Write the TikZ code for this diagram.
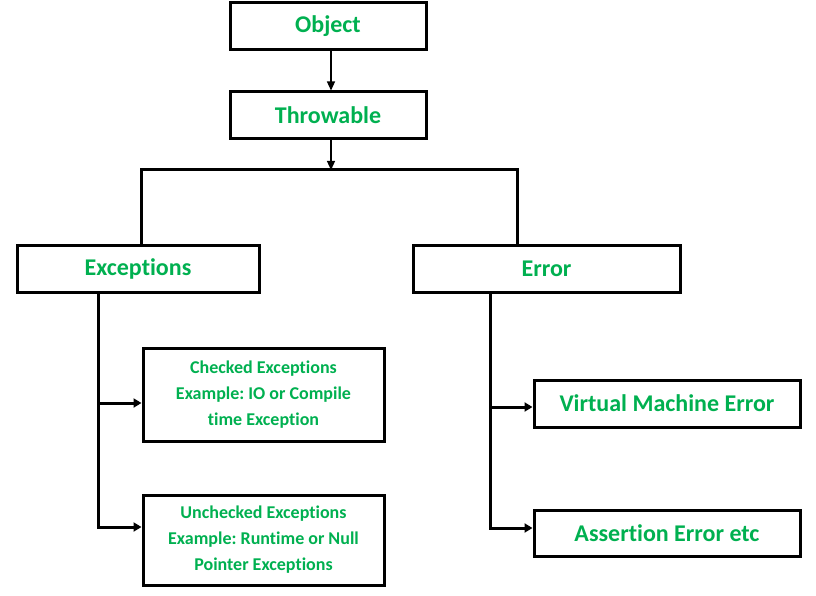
\documentclass[tikz,border=0pt]{standalone}
\usepackage{fontspec}
\setmainfont{Carlito}[Ligatures=NoCommon]
\frenchspacing
\usetikzlibrary{arrows.meta}
\definecolor{labelgreen}{RGB}{0,176,80}

\begin{document}
\begin{tikzpicture}[x=1pt, y=-1pt,
  every node/.style={font=\bfseries\fontsize{24}{28}\selectfont, text=labelgreen},
  classbox/.style={draw=black, line width=3pt, minimum height=47pt, inner sep=0pt},
  notebox/.style={classbox, font=\bfseries\fontsize{18}{26}\selectfont, align=center},
  thinarrow/.style={line width=1.2pt, -{Triangle[length=9pt,width=8pt]}},
  treeline/.style={line width=3pt},
  treearrow/.style={line width=3pt, -{Triangle[length=8pt,width=9pt]}}]
  \def\barlevel{170}

  \useasboundingbox (0,0) rectangle (816,596);

  \node[classbox, minimum width=196pt] (object) at (328,26.5) {Object};
  \node[classbox, minimum width=196pt] (throwable) at (328,115.5) {Throwable};
  \node[classbox, minimum width=242pt] (exceptions) at (138,268.5) {Exceptions};
  \node[classbox, minimum width=267pt] (error) at (546.5,268.5) {Error};

  \node[notebox, minimum width=241pt, minimum height=93pt] (checked) at (263.5,394.5)
    {Checked Exceptions\\Example: IO or Compile\\time Exception};
  \node[notebox, minimum width=241pt, minimum height=90pt] (unchecked) at (263.5,540)
    {Unchecked Exceptions\\Example: Runtime or Null\\Pointer Exceptions};
  \node[classbox, minimum width=266pt] (vmerror) at (667,403.5) {Virtual Machine Error};
  \node[classbox, minimum width=266pt, minimum height=46pt] (assertion) at (667,533) {Assertion Error etc};

  \coordinate (split) at (331,\barlevel);
  \draw[thinarrow] ([xshift=3pt]object.south) -- ([xshift=3pt]throwable.north);
  \draw[thinarrow] ([xshift=3pt]throwable.south) -- (split);
  \draw[treeline] ([xshift=3pt]exceptions.north) |- (split) -| ([xshift=-29.5pt]error.north);

  % exceptions branch
  \coordinate (exctrunk) at ([xshift=-40pt]exceptions.south);
  \coordinate (checkedin) at ([yshift=-8.5pt]checked.west);
  \coordinate (uncheckedin) at ([yshift=13pt]unchecked.west);
  \draw[treearrow] (exctrunk) |- (uncheckedin);
  \draw[treearrow] (exctrunk |- checkedin) -- (checkedin);

  % error branch
  \coordinate (errtrunk) at ([xshift=-56.5pt]error.south);
  \coordinate (vmerrorin) at ([yshift=-3.5pt]vmerror.west);
  \coordinate (assertionin) at ([yshift=5pt]assertion.west);
  \draw[treearrow] (errtrunk) |- (assertionin);
  \draw[treearrow] (errtrunk |- vmerrorin) -- (vmerrorin);
\end{tikzpicture}
\end{document}
